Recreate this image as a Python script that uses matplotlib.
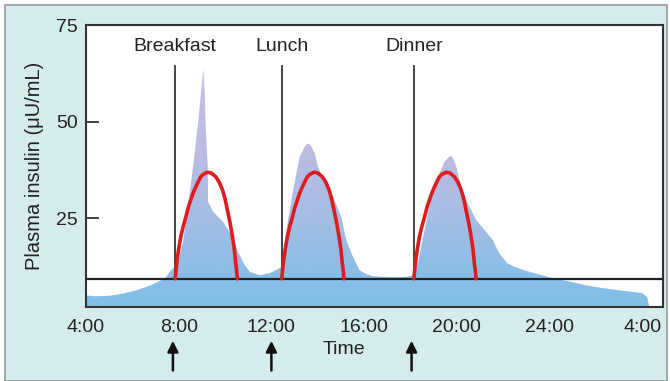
import numpy as np
import matplotlib.pyplot as plt
from matplotlib.colors import LinearSegmentedColormap
from matplotlib.patches import Rectangle

plt.rcParams['font.family'] = ['Liberation Sans', 'DejaVu Sans']

# plasma insulin over the day (hour of day, uU/mL)
hours = [4.00, 4.30, 4.56, 5.00, 5.47, 6.16, 6.60, 6.89, 7.20, 7.45, 7.62, 7.80, 7.98,
         8.19, 8.41, 8.63, 8.84, 8.98, 9.06, 9.12,
         9.16, 9.25, 9.27, 9.49, 9.92, 10.28, 10.56, 10.85, 11.07, 11.50, 11.93, 12.28,
         12.45, 12.65, 12.94, 13.22, 13.44, 13.55, 13.62, 13.72, 13.87, 14.01, 14.30,
         14.66, 15.02, 15.23, 15.52, 15.81, 16.10, 16.37, 16.80, 17.32, 17.80, 18.09,
         18.32, 18.61, 18.90, 19.19, 19.47, 19.68, 19.76, 19.85, 19.98, 20.19, 20.48,
         20.84, 21.20, 21.56, 21.84, 22.19, 22.50, 22.92, 23.57, 24.13, 24.86, 25.59,
         26.16, 27.02, 27.45, 28.01, 28.22, 28.31]
insulin = [5.0, 4.8, 4.8, 4.9, 5.3, 6.3, 7.2, 7.9, 8.8, 9.7, 11.1, 12.3, 13.7,
           18.9, 28.4, 38.7, 49.9, 58.5, 63.8, 58.0,
           49.9, 38.7, 29.2, 26.6, 24.0, 20.6, 16.3, 12.8, 11.1, 10.2, 10.8, 11.8,
           12.5, 21.9, 32.3, 40.9, 43.5, 44.2, 44.3, 43.6, 41.8, 38.3, 34.8,
           30.5, 25.3, 19.3, 15.0, 11.5, 10.5, 10.0, 9.8, 9.7, 9.8, 10.2,
           13.3, 21.9, 30.5, 35.7, 39.6, 40.9, 41.1, 40.4, 38.3, 33.1, 28.8,
           24.5, 21.9, 19.3, 15.8, 13.3, 12.4, 11.5, 10.4, 9.5, 8.6, 7.6,
           7.0, 6.3, 6.0, 5.6, 4.5, 2.0]

meal_names = ['Breakfast', 'Lunch', 'Dinner']
meal_times = [7.85, 12.45, 18.15]
arrow_times = [7.75, 12.0, 18.05]

# red response after each meal (hours after meal, uU/mL)
arc_dt = [0.0, 0.04, 0.1, 0.17, 0.24, 0.35, 0.46, 0.56, 0.67, 0.78, 0.89, 1.0, 1.1, 1.2,
          1.39, 1.55, 1.75, 1.9, 2.04, 2.15, 2.25, 2.36, 2.47, 2.55, 2.61, 2.65, 2.68]
arc_val = [9.3, 12.0, 15.0, 17.8, 20.2, 23.0, 25.3, 27.7, 29.7, 31.6, 33.1, 34.5, 35.7, 36.3,
           36.9, 36.7, 35.7, 34.3, 32.3, 30.0, 27.1, 24.0, 20.2, 17.0, 13.3, 11.5, 9.3]

baseline = 9.2
tick_pos = [4, 8, 12, 16, 20, 24, 28]
tick_lab = ['4:00', '8:00', '12:00', '16:00', '20:00', '24:00', '4:00']
y_ticks = [25, 50, 75]

fig = plt.figure(figsize=(6.7, 3.81), dpi=100, facecolor='white')
fig.patches.append(Rectangle((5 / 670, 0), 662 / 670, 1 - 5 / 381, transform=fig.transFigure,
                             facecolor='#d5ecec', edgecolor='#9a9a9a', linewidth=1.2, zorder=-5))

ax = fig.add_axes([86 / 670, 1 - 307 / 381, 577 / 670, 282 / 381])
ax.set_facecolor('white')
xmin, xmax, ymin, ymax = 4, 28.9, 2, 75

# gradient fill: blue at the bottom, lavender towards the peaks
poly = ax.fill_between(hours, ymin, insulin, facecolor='none', edgecolor='none')
cmap = LinearSegmentedColormap.from_list('ins', [(0, '#80bfe7'), (0.15, '#8bbde6'),
                                                 (0.4, '#a9bde4'), (0.65, '#bcbbe2'),
                                                 (1, '#c6c2e5')])
grad = np.linspace(0, 1, 256).reshape(-1, 1)
im = ax.imshow(grad, extent=[xmin, xmax, ymin, 64], origin='lower', aspect='auto',
               cmap=cmap, zorder=1)
im.set_clip_path(poly.get_paths()[0], transform=ax.transData)

ax.axhline(baseline, color='#222222', lw=1.6, zorder=3)

for name, t in zip(meal_names, meal_times):
    ax.plot([t, t], [baseline, 64.5], color='#333333', lw=1.3, zorder=3)
    ax.text(t, 69.5, name, ha='center', va='center', fontsize=14, color='#222222')
    ax.plot([t + d for d in arc_dt], arc_val, color='#dd1d1d', lw=2.6,
            solid_capstyle='round', solid_joinstyle='round', zorder=4)

for t in arrow_times:
    ax.annotate('', xy=(t, -0.11), xytext=(t, -0.235), xycoords=('data', 'axes fraction'),
                textcoords=('data', 'axes fraction'), annotation_clip=False,
                arrowprops=dict(arrowstyle='-|>', color='#111111', lw=1.8, mutation_scale=16))

ax.set_xlim(xmin, xmax)
ax.set_ylim(ymin, ymax)
ax.set_xticks(tick_pos)
ax.set_xticklabels(tick_lab)
ax.set_yticks(y_ticks)
ax.tick_params(axis='x', length=0, pad=9, labelsize=14, labelcolor='#222222')
ax.tick_params(axis='y', direction='in', length=9.5, width=1.3, color='#333333',
               pad=6, labelsize=14, labelcolor='#222222')
for s in ax.spines.values():
    s.set_color('#333333')
    s.set_linewidth(1.5)

fig.text(344 / 670, 1 - 350 / 381, 'Time', ha='center', va='center', fontsize=14, color='#222222')
fig.text(35 / 670, 1 - 166 / 381, 'Plasma insulin (\u03bcU/mL)', rotation=90,
         ha='center', va='center', fontsize=14.5, color='#222222')

fig.savefig('out.png', dpi=100, facecolor=fig.get_facecolor())
